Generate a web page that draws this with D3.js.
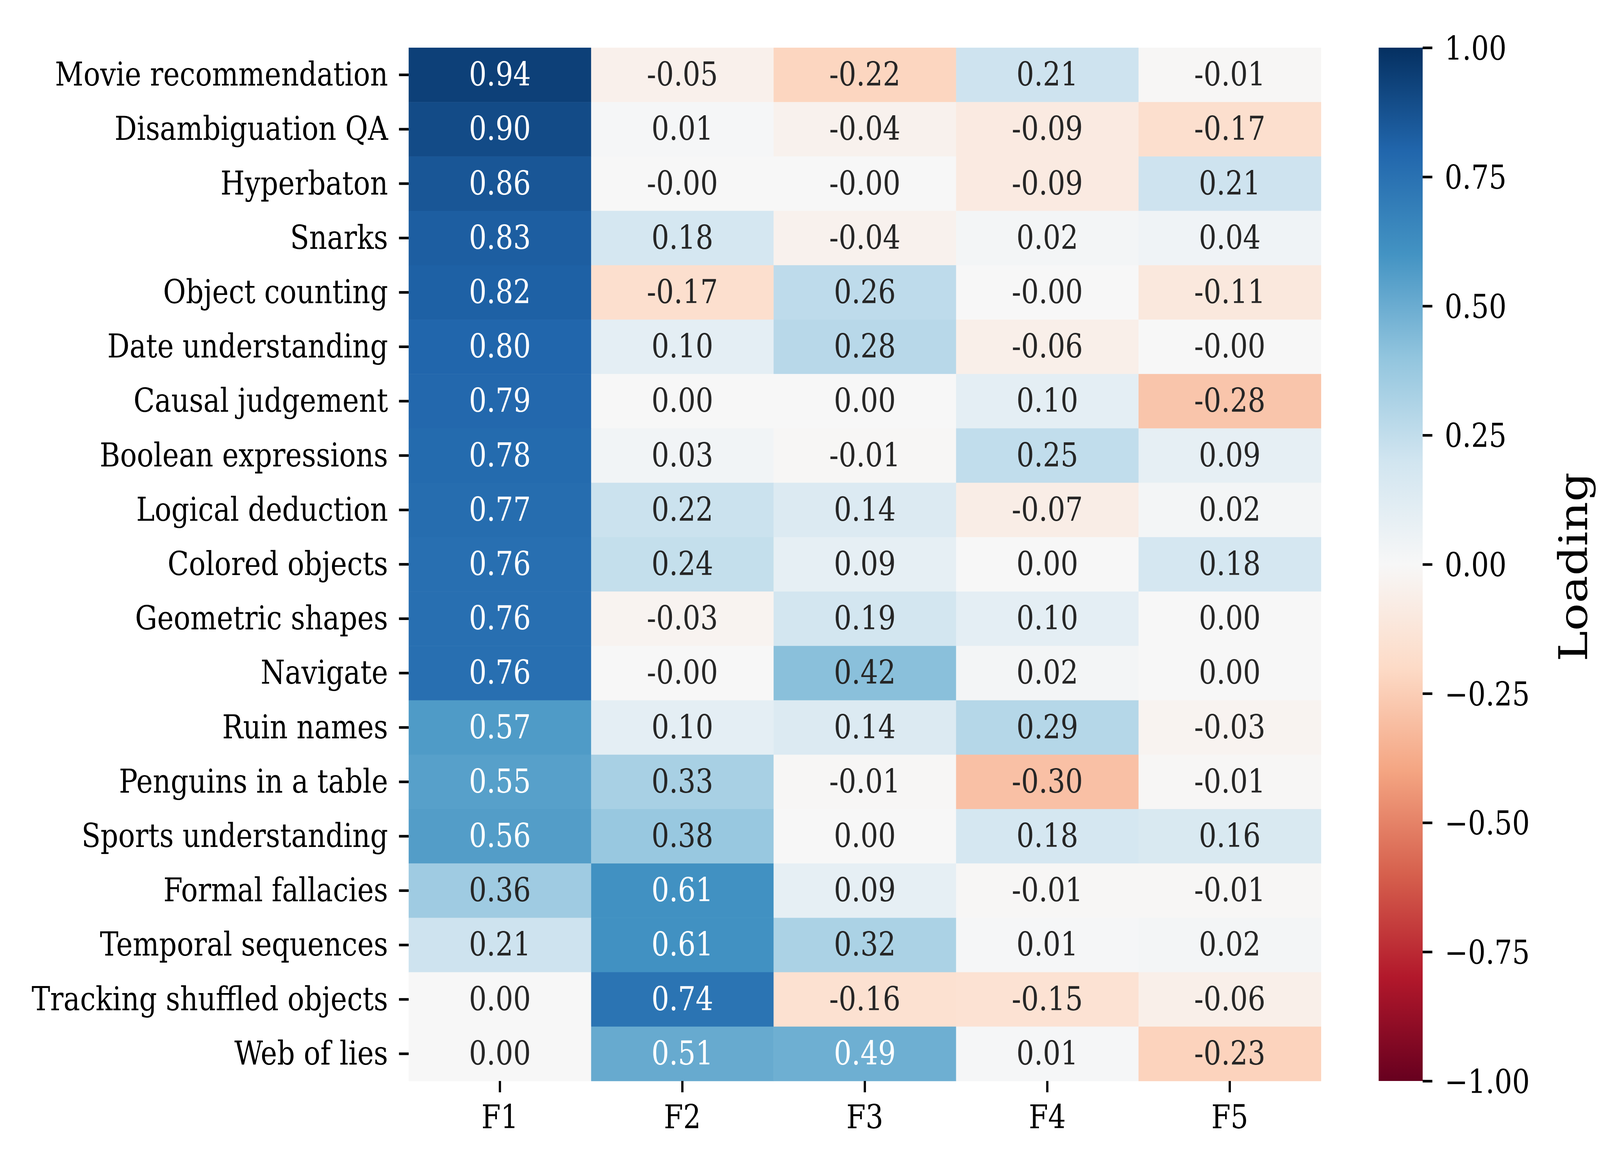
<!DOCTYPE html>
<html>
<head>
<meta charset="utf-8">
<script src="https://cdn.jsdelivr.net/npm/d3@7"></script>
<style>
  html, body { margin: 0; background: #fff; overflow: hidden; }
  svg { display: block; }
  text { font-family: "DejaVu Serif", serif; }
</style>
</head>
<body>
<div id="chart"></div>
<script>
// drawing space of the reference figure
const width = 4800;
const height = 3000;

// tasks (rows) and factors (columns)
const tasks = [
    "Movie recommendation", "Disambiguation QA", "Hyperbaton", "Snarks",
    "Object counting", "Date understanding", "Causal judgement",
    "Boolean expressions", "Logical deduction", "Colored objects",
    "Geometric shapes", "Navigate", "Ruin names", "Penguins in a table",
    "Sports understanding", "Formal fallacies", "Temporal sequences",
    "Tracking shuffled objects", "Web of lies"
];
const factors = ["F1", "F2", "F3", "F4", "F5"];

// loadings per factor, one value per task (-0.001 = shown as "-0.00")
const f1 = [0.94, 0.90, 0.86, 0.83, 0.82, 0.80, 0.79, 0.78, 0.77, 0.76, 0.76, 0.76, 0.57, 0.55, 0.56, 0.36, 0.21, 0.00, 0.00];
const f2 = [-0.05, 0.01, -0.001, 0.18, -0.17, 0.10, 0.00, 0.03, 0.22, 0.24, -0.03, -0.001, 0.10, 0.33, 0.38, 0.61, 0.61, 0.74, 0.51];
const f3 = [-0.22, -0.04, -0.001, -0.04, 0.26, 0.28, 0.00, -0.01, 0.14, 0.09, 0.19, 0.42, 0.14, -0.01, 0.00, 0.09, 0.32, -0.16, 0.49];
const f4 = [0.21, -0.09, -0.09, 0.02, -0.001, -0.06, 0.10, 0.25, -0.07, 0.00, 0.10, 0.02, 0.29, -0.30, 0.18, -0.01, 0.01, -0.15, 0.01];
const f5 = [-0.01, -0.17, 0.21, 0.04, -0.11, -0.001, -0.28, 0.09, 0.02, 0.18, 0.00, 0.00, -0.03, -0.01, 0.16, -0.01, 0.02, -0.06, -0.23];

const colorbarTicks = [-1, -0.75, -0.5, -0.25, 0, 0.25, 0.5, 0.75, 1];

// matplotlib RdBu colour stops
const rdbu = ["#67001f", "#b2182b", "#d6604d", "#f4a582", "#fddbc7", "#f7f7f7",
              "#d1e5f0", "#92c5de", "#4393c3", "#2166ac", "#053061"];

const columns = [f1, f2, f3, f4, f5];
const cells = [];
tasks.forEach((t, i) => {
    factors.forEach((f, j) => {
        cells.push({ task: t, factor: f, value: columns[j][i] });
    });
});

const plotLeft = 1226, plotRight = 3963, plotTop = 122, plotBottom = 2767;
const cbLeft = 4136, cbRight = 4268;
const fontSize = 83.33;
const tickLen = 29;
const tickWidth = 6.67;

const color = d3.scaleLinear()
    .domain(d3.range(rdbu.length).map(i => -1 + 2 * i / (rdbu.length - 1)))
    .range(rdbu)
    .interpolate(d3.interpolateRgb)
    .clamp(true);

function luminance(c) {
    const rgb = d3.rgb(c);
    const lin = v => {
        v = v / 255;
        return v <= 0.03928 ? v / 12.92 : Math.pow((v + 0.055) / 1.055, 2.4);
    };
    return 0.2126 * lin(rgb.r) + 0.7152 * lin(rgb.g) + 0.0722 * lin(rgb.b);
}

function fmt(v) {
    return (v < 0 ? "-" : "") + Math.abs(v).toFixed(2);
}

// the window can be narrower than the figure, so fit the figure into it
const svg = d3.select("#chart")
    .append("svg")
    .attr("width", window.innerWidth || width)
    .attr("height", window.innerHeight || height)
    .attr("viewBox", `0 0 ${width} ${height}`)
    .attr("preserveAspectRatio", "none");

const x = d3.scaleBand().domain(factors).range([plotLeft, plotRight]);
const y = d3.scaleBand().domain(tasks).range([plotTop, plotBottom]);

// cells
svg.append("g")
    .selectAll("rect")
    .data(cells)
    .enter()
    .append("rect")
    .attr("x", d => x(d.factor))
    .attr("y", d => y(d.task))
    .attr("width", x.bandwidth() + 0.5)
    .attr("height", y.bandwidth() + 0.5)
    .attr("fill", d => color(d.value));

// annotations
svg.append("g")
    .selectAll("text")
    .data(cells)
    .enter()
    .append("text")
    .attr("x", d => x(d.factor) + x.bandwidth() / 2)
    .attr("y", d => y(d.task) + y.bandwidth() / 2)
    .attr("dy", "0.33em")
    .attr("text-anchor", "middle")
    .attr("font-size", fontSize)
    .attr("fill", d => luminance(color(d.value)) > 0.408 ? "#262626" : "#ffffff")
    .text(d => fmt(d.value));

// axes
const yAxis = svg.append("g")
    .attr("transform", `translate(${plotLeft},0)`)
    .call(d3.axisLeft(y).tickSize(tickLen).tickPadding(33));
const xAxis = svg.append("g")
    .attr("transform", `translate(0,${plotBottom})`)
    .call(d3.axisBottom(x).tickSize(tickLen).tickPadding(33));

[yAxis, xAxis].forEach(a => {
    a.select(".domain").remove();
    a.selectAll(".tick line").attr("stroke", "#000").attr("stroke-width", tickWidth);
    a.selectAll(".tick text")
        .attr("font-family", "DejaVu Serif")
        .attr("font-size", fontSize)
        .attr("fill", "#000");
});
yAxis.selectAll(".tick text").attr("dy", "0.33em");
xAxis.selectAll(".tick text").attr("dy", "0.71em");

// colorbar
const defs = svg.append("defs");
const grad = defs.append("linearGradient")
    .attr("id", "cbgrad")
    .attr("x1", 0).attr("y1", 1).attr("x2", 0).attr("y2", 0);
grad.selectAll("stop")
    .data(rdbu)
    .enter()
    .append("stop")
    .attr("offset", (d, i) => i / (rdbu.length - 1))
    .attr("stop-color", d => d);

const cbScale = d3.scaleLinear().domain([-1, 1]).range([plotBottom, plotTop]);

svg.append("rect")
    .attr("x", cbLeft)
    .attr("y", cbScale(1))
    .attr("width", cbRight - cbLeft)
    .attr("height", cbScale(-1) - cbScale(1))
    .attr("fill", "url(#cbgrad)");

const cbAxis = svg.append("g")
    .attr("transform", `translate(${cbRight},0)`)
    .call(d3.axisRight(cbScale)
        .tickValues(colorbarTicks)
        .tickSize(tickLen)
        .tickPadding(37)
        .tickFormat(d => (d < 0 ? "\u2212" : "") + Math.abs(d).toFixed(2)));
cbAxis.select(".domain").remove();
cbAxis.selectAll(".tick line").attr("stroke", "#000").attr("stroke-width", tickWidth);
cbAxis.selectAll(".tick text")
    .attr("font-family", "DejaVu Serif")
    .attr("font-size", fontSize)
    .attr("fill", "#000")
    .attr("dy", "0.36em");

svg.append("text")
    .attr("transform", "translate(4761,1451) rotate(-90)")
    .attr("text-anchor", "middle")
    .attr("font-size", 118)
    .attr("fill", "#000")
    .text("Loading");
</script>
</body>
</html>
